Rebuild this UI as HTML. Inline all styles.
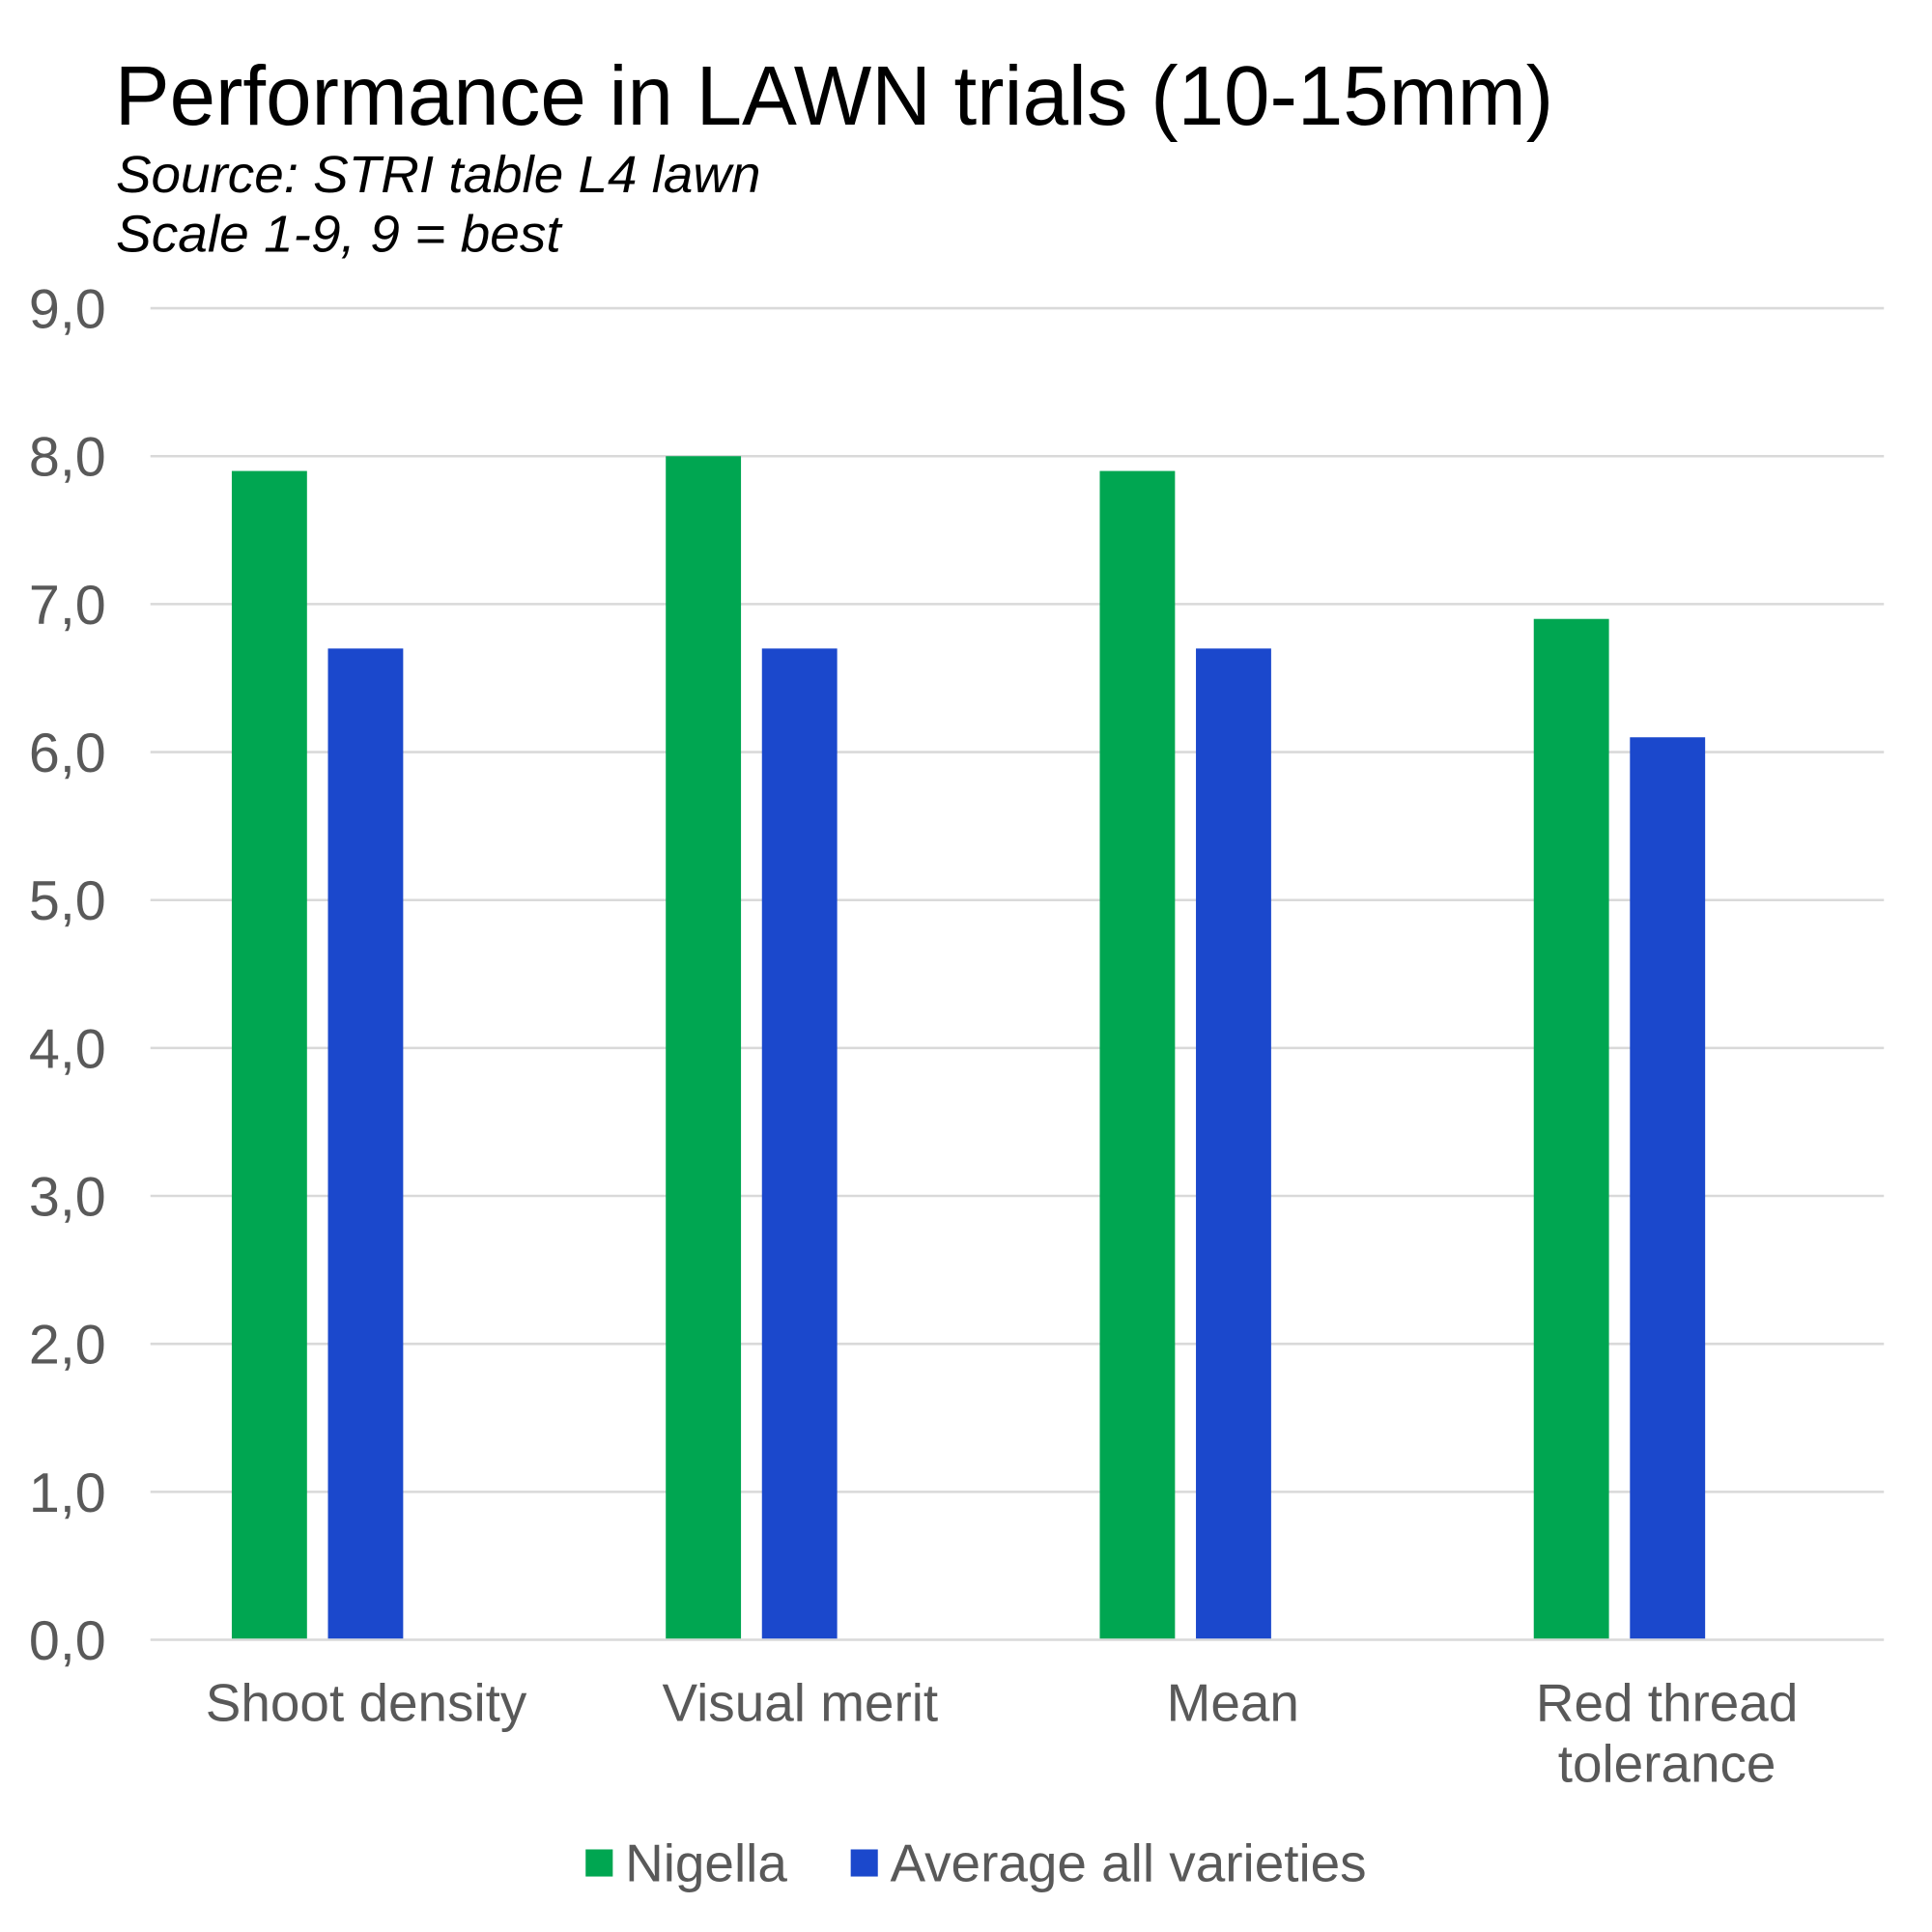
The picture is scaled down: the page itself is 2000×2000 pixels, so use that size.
<!DOCTYPE html>
<html><head><meta charset="utf-8"><style>html,body{margin:0;padding:0;background:#fff}svg{display:block}</style></head>
<body>
<svg width="2000" height="2000" viewBox="0 0 1567 1567" xmlns="http://www.w3.org/2000/svg" font-family="Liberation Sans, Arial, sans-serif">
<rect width="1567" height="1567" fill="#fff"/>
<text x="93" y="101" font-size="68" fill="#000" textLength="1167" lengthAdjust="spacingAndGlyphs">Performance in LAWN trials (10-15mm)</text>
<text x="94" y="156" font-size="42" font-style="italic" fill="#000" textLength="523" lengthAdjust="spacingAndGlyphs">Source: STRI table L4 lawn</text>
<text x="94" y="204" font-size="42" font-style="italic" fill="#000" textLength="361" lengthAdjust="spacingAndGlyphs">Scale 1-9, 9 = best</text>
<g stroke="#d9d9d9" stroke-width="2">
<line x1="122" x2="1528" y1="250" y2="250"/><line x1="122" x2="1528" y1="370" y2="370"/>
<line x1="122" x2="1528" y1="490" y2="490"/><line x1="122" x2="1528" y1="610" y2="610"/>
<line x1="122" x2="1528" y1="730" y2="730"/><line x1="122" x2="1528" y1="850" y2="850"/>
<line x1="122" x2="1528" y1="970" y2="970"/><line x1="122" x2="1528" y1="1090" y2="1090"/>
<line x1="122" x2="1528" y1="1210" y2="1210"/><line x1="122" x2="1528" y1="1330" y2="1330"/>
</g>
<g font-size="45" fill="#595959" text-anchor="end">
<text x="86" y="266">9,0</text><text x="86" y="386">8,0</text><text x="86" y="506">7,0</text>
<text x="86" y="626">6,0</text><text x="86" y="746">5,0</text><text x="86" y="866">4,0</text>
<text x="86" y="986">3,0</text><text x="86" y="1106">2,0</text><text x="86" y="1226">1,0</text>
<text x="86" y="1346">0,0</text>
</g>
<g fill="#00a651">
<rect x="188" y="382" width="61" height="947"/>
<rect x="540" y="370" width="61" height="959"/>
<rect x="892" y="382" width="61" height="947"/>
<rect x="1244" y="502" width="61" height="827"/>
</g>
<g fill="#1b48cc">
<rect x="266" y="526" width="61" height="803"/>
<rect x="618" y="526" width="61" height="803"/>
<rect x="970" y="526" width="61" height="803"/>
<rect x="1322" y="598" width="61" height="731"/>
</g>
<g font-size="43" fill="#595959" text-anchor="middle">
<text x="297" y="1396">Shoot density</text>
<text x="649" y="1396">Visual merit</text>
<text x="1000" y="1396">Mean</text>
<text x="1352" y="1396">Red thread</text>
<text x="1352" y="1445">tolerance</text>
</g>
<rect x="475" y="1500" width="22" height="22" fill="#00a651"/>
<text x="507" y="1526" font-size="43" fill="#595959">Nigella</text>
<rect x="690" y="1500" width="22" height="22" fill="#1b48cc"/>
<text x="722" y="1526" font-size="43" fill="#595959">Average all varieties</text>
</svg>
</body></html>
